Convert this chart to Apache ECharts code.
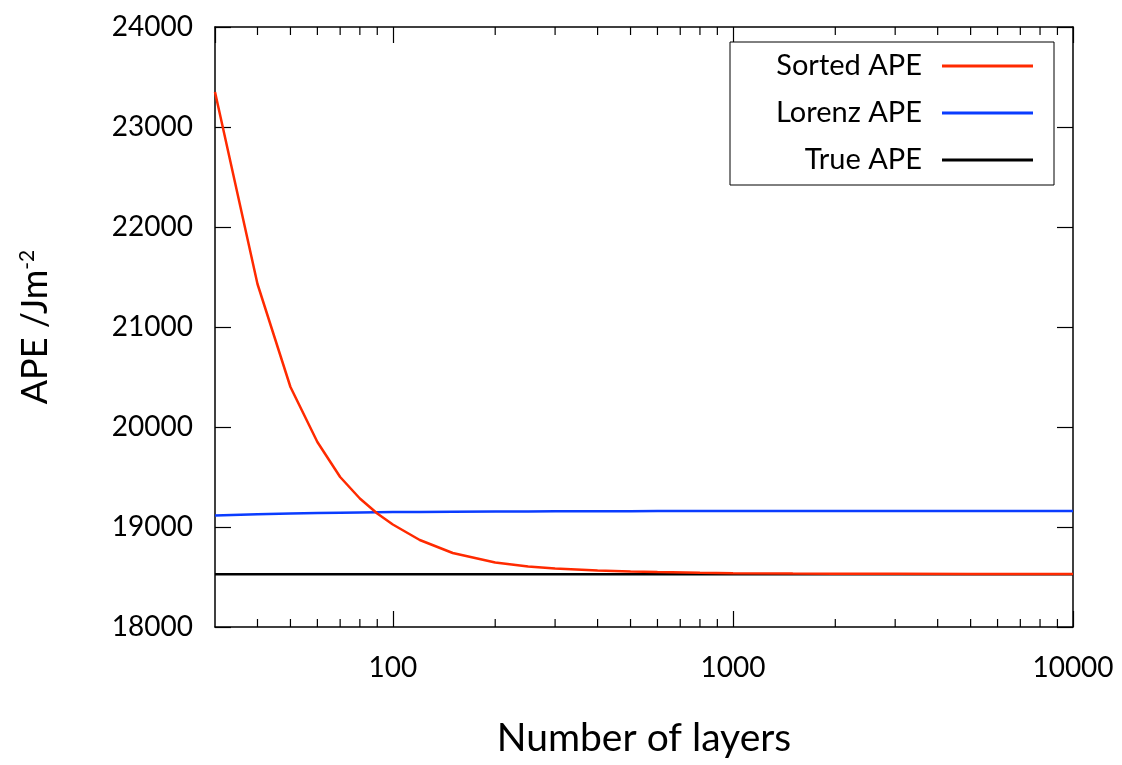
<!DOCTYPE html>
<html>
<head>
<meta charset="utf-8">
<script src="https://cdn.jsdelivr.net/npm/echarts@6/dist/echarts.min.js"></script>
<style>
html,body{margin:0;padding:0;background:#fff;}
#chart{width:1122px;height:765px;}
</style>
</head>
<body>
<div id="chart"></div>
<script>
// ---- data ----
const layers = [30, 40, 50, 60, 70, 80, 90, 100, 120, 150, 200, 250, 300, 400, 500, 600, 800, 1000, 1500, 2000, 3000, 5000, 10000];
const sortedAPE = [23350, 21430, 20400, 19850, 19500, 19285, 19135, 19025, 18870, 18740, 18645, 18605, 18585, 18566, 18555, 18549, 18542, 18538, 18535, 18533, 18532, 18531, 18530];
const lorenzAPE = [19115, 19127, 19134, 19139, 19142, 19145, 19147, 19149, 19151, 19153, 19155, 19156, 19157, 19158, 19158, 19159, 19159, 19160, 19160, 19160, 19160, 19160, 19160];
const trueAPE = 18527;
const minorTicks = [40, 50, 60, 70, 80, 90, 200, 300, 400, 500, 600, 700, 800, 900, 2000, 3000, 4000, 5000, 6000, 7000, 8000, 9000];
const xTickLabels = [100, 1000, 10000];
const yMin = 18000, yMax = 24000, yStep = 1000;
const xMin = 30, xMax = 10000;

const FONT = 'Lato';
const pair = (xs, ys) => xs.map((x, i) => [x, ys[i]]);

const chart = echarts.init(document.getElementById('chart'));
const xCommon = {
  type: 'log', logBase: 10, min: xMin, max: xMax,
  axisLine: {show: true, lineStyle: {color: '#000', width: 1.5}},
  axisTick: {show: true, inside: true, length: 16, lineStyle: {color: '#000', width: 1.2}},
  splitLine: {show: false}
};
const yCommon = {
  type: 'value', min: yMin, max: yMax, interval: yStep,
  axisLine: {show: true, lineStyle: {color: '#000', width: 1.5}},
  axisTick: {show: true, inside: true, length: 16, lineStyle: {color: '#000', width: 1.2}},
  splitLine: {show: false}
};
chart.setOption({
  animation: false,
  backgroundColor: '#fff',
  grid: {left: 215, right: 49, top: 27, bottom: 138, containLabel: false},
  xAxis: [
    Object.assign({}, xCommon, {
      position: 'bottom',
      name: 'Number of layers', nameLocation: 'middle', nameGap: 92,
      nameTextStyle: {fontFamily: FONT, fontSize: 39, color: '#000'},
      axisLabel: {
        show: true, margin: 27, fontFamily: FONT, fontSize: 28, color: '#000',
        showMinLabel: false,
        formatter: v => xTickLabels.indexOf(Math.round(v)) >= 0 ? String(Math.round(v)) : ''
      }
    }),
    Object.assign({}, xCommon, {position: 'top', axisLabel: {show: false}})
  ],
  yAxis: [
    Object.assign({}, yCommon, {
      position: 'left',
      name: '{a|APE /Jm}{b|-2}', nameLocation: 'middle', nameGap: 160, nameRotate: 90,
      nameTextStyle: {
        color: '#000',
        rich: {
          a: {fontFamily: FONT, fontSize: 36, color: '#000', lineHeight: 40},
          b: {fontFamily: FONT, fontSize: 21, color: '#000', lineHeight: 40, padding: [0, 0, 16, 0]}
        }
      },
      axisLabel: {show: true, margin: 22, fontFamily: FONT, fontSize: 28, color: '#000', formatter: v => String(v)}
    }),
    Object.assign({}, yCommon, {position: 'right', axisLabel: {show: false}})
  ],
  legend: {
    data: ['Sorted APE', 'Lorenz APE', 'True APE'],
    orient: 'vertical', left: 730, top: 42, align: 'right',
    backgroundColor: '#fff',
    borderColor: '#000', borderWidth: 1, borderRadius: 0,
    padding: [9, 21, 10, 17],
    itemGap: 17, itemWidth: 91, itemHeight: 3, icon: 'rect',
    textStyle: {fontFamily: FONT, fontSize: 29, color: '#000', width: 175, align: 'right', lineHeight: 30, padding: [0, 15, 0, 0]}
  },
  series: [
    {
      name: 'Sorted APE', type: 'line', data: pair(layers, sortedAPE),
      symbol: 'none', smooth: false, z: 4,
      lineStyle: {color: '#ff2a00', width: 2.5}, itemStyle: {color: '#ff2a00'}
    },
    {
      name: 'Lorenz APE', type: 'line', data: pair(layers, lorenzAPE),
      symbol: 'none', smooth: false, z: 3,
      lineStyle: {color: '#0a3cff', width: 2.5}, itemStyle: {color: '#0a3cff'}
    },
    {
      name: 'True APE', type: 'line', data: layers.map(x => [x, trueAPE]),
      symbol: 'none', smooth: false, z: 2,
      lineStyle: {color: '#000', width: 2.5}, itemStyle: {color: '#000'}
    },
    {
      name: 'minor', type: 'custom', silent: true, z: 5,
      data: minorTicks.map(v => [v, yMin]),
      renderItem: function (params, api) {
        const cs = params.coordSys;
        const x = api.coord([api.value(0), yMin])[0];
        const bottom = cs.y + cs.height, top = cs.y;
        const style = {stroke: '#000', lineWidth: 1.2};
        return {
          type: 'group',
          children: [
            {type: 'line', shape: {x1: x, y1: bottom, x2: x, y2: bottom - 8}, style: style},
            {type: 'line', shape: {x1: x, y1: top, x2: x, y2: top + 8}, style: style}
          ]
        };
      }
    }
  ]
});
</script>
</body>
</html>
